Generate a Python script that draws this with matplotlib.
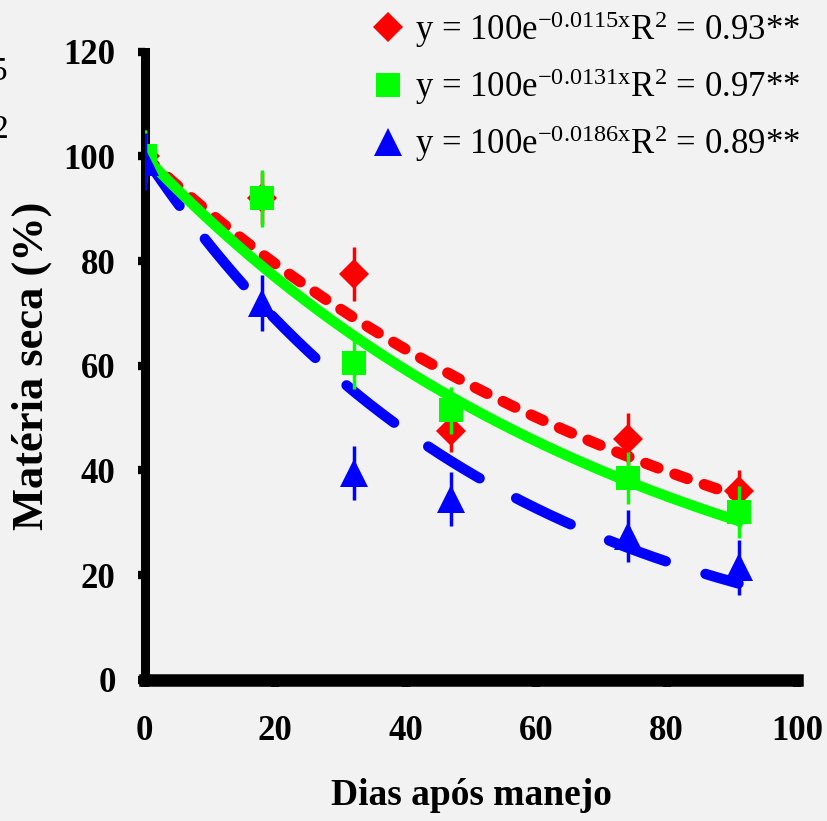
import numpy as np
import matplotlib.pyplot as plt
from matplotlib.lines import Line2D

plt.rcParams['font.family'] = ['Liberation Serif', 'DejaVu Serif']
plt.rcParams['mathtext.fontset'] = 'custom'
plt.rcParams['mathtext.rm'] = 'Liberation Serif'
plt.rcParams['mathtext.it'] = 'Liberation Serif:italic'
plt.rcParams['mathtext.bf'] = 'Liberation Serif:bold'

# dias apos manejo
dias = [0, 18, 32, 47, 74, 91]

# materia seca (%) observada, com erro
red_y = [100, 92, 77.5, 47.5, 46, 36]
red_err = [5, 5, 5.2, 4, 5, 4]
green_y = [100, 92, 60.5, 51.5, 38.5, 32]
green_err = [5, 5.4, 5, 4.5, 5, 5]
blue_y = [99, 72, 39.5, 34.5, 27.5, 21.5]
blue_err = [5.5, 5.3, 5.2, 5.2, 5, 5.3]

# coeficientes das curvas y = 100e^(-kx)
k_red = 0.0115
k_green = 0.0131
k_blue = 0.0186

labels = [r'y = 100e$^{\mathrm{-0.0115x}}$R$^{2}$ = 0.93**',
          r'y = 100e$^{\mathrm{-0.0131x}}$R$^{2}$ = 0.97**',
          r'y = 100e$^{\mathrm{-0.0186x}}$R$^{2}$ = 0.89**']

bg = '#f2f2f2'
fig = plt.figure(figsize=(8.27, 8.21), dpi=100, facecolor=bg)
ax = fig.add_axes([0.175, 0.172, 0.789, 0.765], facecolor=bg)

xf = np.linspace(0, 91, 200)
ax.plot(xf, 100 * np.exp(-k_red * xf), color='red', lw=8, dashes=(1.2, 1.6),
        dash_capstyle='round', zorder=2)
ax.plot(xf, 100 * np.exp(-k_blue * xf), color='blue', lw=7.5, dashes=(5.8, 4.0),
        dash_capstyle='round', zorder=2)
ax.plot(xf, 100 * np.exp(-k_green * xf), color='#00ff00', lw=7.5, zorder=3)

ax.errorbar(dias, red_y, yerr=red_err, fmt='D', color='red', ms=15, mew=0,
            elinewidth=2.5, capsize=9, capthick=2.5, zorder=4)
ax.errorbar(dias, green_y, yerr=green_err, fmt='s', color='#00ff00', ms=17, mew=0,
            elinewidth=2.5, capsize=9, capthick=2.5, zorder=5)
ax.errorbar(dias, blue_y, yerr=blue_err, fmt='^', color='blue', ms=20, mew=0,
            elinewidth=2.5, capsize=9, capthick=2.5, zorder=6)

ax.set_xlim(0, 100)
ax.set_ylim(0, 120)
ax.set_xticks(range(0, 101, 20))
ax.set_yticks(range(0, 121, 20))
for s in ['top', 'right']:
    ax.spines[s].set_visible(False)
ax.spines['left'].set_linewidth(6.5)
ax.spines['bottom'].set_linewidth(9)
ax.tick_params(direction='out', length=5, width=6, colors='black')
ax.tick_params(axis='x', pad=20)
ax.tick_params(axis='y', pad=16)
for t in ax.get_xticklabels() + ax.get_yticklabels():
    t.set_fontsize(25)
    t.set_fontweight('bold')

ax.set_xlabel('Dias após manejo', fontsize=27, fontweight='bold', labelpad=22)
ax.set_ylabel('Matéria seca (%)', fontsize=32, fontweight='bold', labelpad=8)

handles = [Line2D([], [], marker='D', color='red', ls='none', ms=15, mew=0),
           Line2D([], [], marker='s', color='#00ff00', ls='none', ms=17, mew=0),
           Line2D([], [], marker='^', color='blue', ls='none', ms=20, mew=0)]
leg = ax.legend(handles, labels, loc='upper right', bbox_to_anchor=(1.053, 1.118),
                frameon=False, fontsize=25, handletextpad=0.3, labelspacing=0.48,
                handlelength=1.0)

# fragmentos do grafico vizinho cortado
fig.text(8 / 827, 1 - 72 / 821, '5', fontsize=24, ha='right', va='center')
fig.text(8 / 827, 1 - 130 / 821, '2', fontsize=24, ha='right', va='center')

fig.savefig('out.png', dpi=100, facecolor=bg)
